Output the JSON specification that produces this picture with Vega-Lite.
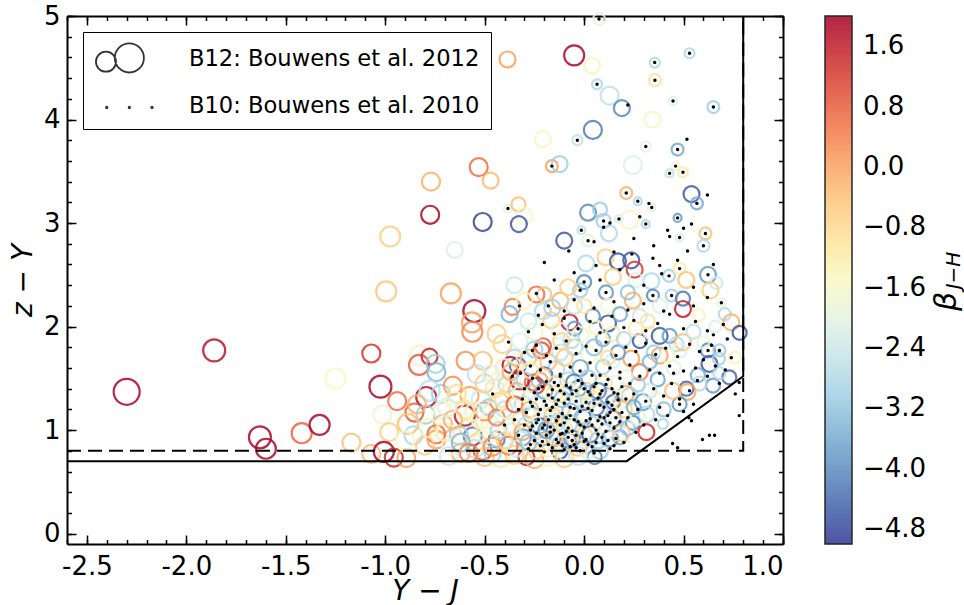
{
  "$schema": "https://vega.github.io/schema/vega-lite/v6.json",
  "width": 716,
  "height": 528,
  "autosize": {"type": "none"},
  "padding": {"left": 67, "top": 16, "right": 181, "bottom": 61},
  "background": "white",
  "config": {
    "view": {"stroke": null},
    "font": "DejaVu Sans",
    "axis": {"grid": false, "domainColor": "black", "domainWidth": 2, "tickColor": "black", "tickWidth": 1.5, "labelFont": "DejaVu Sans", "labelFontSize": 26, "labelColor": "black", "titleFont": "DejaVu Sans", "titleFontSize": 28, "titleFontStyle": "italic", "titleFontWeight": "normal", "titleColor": "black", "zindex": 1}
  },
  "datasets": {
    "b12": [
      {"x":-2.30,"y":1.37,"b":1.9,"H":26.12},{"x":-1.86,"y":1.77,"b":1.7,"H":27.12},{"x":-1.63,"y":0.93,"b":1.9,"H":27.12},{"x":-1.60,"y":0.82,"b":1.9,"H":27.55},
      {"x":-1.42,"y":0.97,"b":0.7,"H":27.55},{"x":-1.33,"y":1.05,"b":1.9,"H":27.55},{"x":-1.25,"y":1.50,"b":-1.5,"H":27.55},{"x":-1.17,"y":0.88,"b":-0.4,"H":27.94},
      {"x":-0.995,"y":2.34,"b":-0.5,"H":27.55},{"x":-0.67,"y":2.32,"b":0.0,"H":27.55},{"x":-0.552,"y":2.15,"b":1.9,"H":27.12},{"x":-0.564,"y":2.04,"b":0.0,"H":27.55},
      {"x":-0.562,"y":1.95,"b":0.3,"H":27.55},{"x":-1.07,"y":1.74,"b":1.3,"H":27.94},{"x":-1.024,"y":1.42,"b":1.9,"H":27.12},{"x":-0.827,"y":1.72,"b":-1.7,"H":27.55},
      {"x":-0.83,"y":1.63,"b":0.8,"H":27.55},{"x":-0.777,"y":1.71,"b":1.5,"H":28.3},{"x":-0.747,"y":1.64,"b":-3.0,"H":27.94},{"x":-0.743,"y":1.56,"b":-3.4,"H":27.94},
      {"x":-0.94,"y":1.28,"b":0.6,"H":27.94},{"x":-0.794,"y":1.32,"b":1.7,"H":27.55},{"x":-0.777,"y":1.38,"b":-2.6,"H":27.55},{"x":-1.015,"y":1.15,"b":-1.8,"H":27.94},
      {"x":-0.853,"y":1.17,"b":0.8,"H":27.94},{"x":-0.797,"y":1.15,"b":-3.0,"H":27.94},{"x":-0.886,"y":1.06,"b":-0.4,"H":27.55},{"x":-0.98,"y":0.98,"b":-0.6,"H":27.94},
      {"x":-0.858,"y":0.95,"b":-2.8,"H":27.94},{"x":-0.743,"y":0.91,"b":0.0,"H":27.94},{"x":-1.07,"y":0.77,"b":-0.3,"H":27.94},{"x":-1.007,"y":0.79,"b":1.9,"H":27.55},
      {"x":-0.957,"y":0.735,"b":1.4,"H":27.94},{"x":-0.894,"y":0.73,"b":0.0,"H":27.94},{"x":-0.72,"y":1.35,"b":-3.0,"H":27.94},{"x":-0.71,"y":1.19,"b":-1.8,"H":27.94},
      {"x":-0.71,"y":1.06,"b":-0.2,"H":27.94},{"x":-0.66,"y":1.43,"b":0.2,"H":27.94},{"x":-0.596,"y":1.67,"b":0.2,"H":27.94},{"x":-0.60,"y":1.14,"b":1.6,"H":27.55},
      {"x":-0.576,"y":1.33,"b":0.0,"H":27.94},{"x":-0.65,"y":1.28,"b":-1.6,"H":27.94},{"x":-0.51,"y":1.67,"b":-0.4,"H":27.94},{"x":-0.54,"y":1.54,"b":-2.6,"H":27.94},
      {"x":-0.56,"y":0.94,"b":-4.2,"H":27.94},{"x":-0.743,"y":0.96,"b":0.6,"H":27.94},{"x":-0.51,"y":0.80,"b":1.0,"H":27.94},{"x":-0.44,"y":1.93,"b":-0.6,"H":27.94},
      {"x":-0.53,"y":3.54,"b":0.6,"H":27.94},{"x":-0.47,"y":3.41,"b":-0.3,"H":28.3},{"x":-0.77,"y":3.40,"b":-0.2,"H":27.94},{"x":-0.774,"y":3.08,"b":1.9,"H":27.94},
      {"x":-0.51,"y":3.01,"b":-4.8,"H":27.94},{"x":-0.975,"y":2.87,"b":-0.6,"H":27.55},{"x":-0.65,"y":2.74,"b":-2.2,"H":28.3},
      {"x":-0.385,"y":4.58,"b":0.0,"H":28.3},{"x":-0.05,"y":4.62,"b":1.9,"H":27.55},{"x":0.04,"y":4.52,"b":-1.4,"H":28.3},{"x":0.355,"y":4.55,"b":-2.8,"H":29.1},
      {"x":0.53,"y":4.64,"b":-2.8,"H":29.1},{"x":0.356,"y":4.38,"b":-1.0,"H":28.88},{"x":0.065,"y":4.34,"b":-2.8,"H":29.1},{"x":0.128,"y":4.23,"b":-2.6,"H":27.94},
      {"x":0.19,"y":4.11,"b":-4.0,"H":28.3},{"x":0.447,"y":4.18,"b":-2.2,"H":29.3},{"x":0.65,"y":4.12,"b":-3.0,"H":28.88},{"x":0.343,"y":4.0,"b":-1.6,"H":28.3},
      {"x":0.044,"y":3.90,"b":-4.2,"H":27.94},{"x":-0.207,"y":3.81,"b":-1.6,"H":28.3},{"x":-0.034,"y":3.80,"b":-2.6,"H":29.1},{"x":0.31,"y":3.74,"b":-2.0,"H":29.1},
      {"x":0.47,"y":3.71,"b":-3.6,"H":28.88},{"x":0.245,"y":3.56,"b":-2.2,"H":27.94},{"x":-0.162,"y":3.55,"b":0.0,"H":28.88},{"x":-0.123,"y":3.57,"b":-3.0,"H":28.3},
      {"x":0.46,"y":3.55,"b":-1.8,"H":29.3},{"x":0.43,"y":3.48,"b":-2.6,"H":29.3},{"x":0.497,"y":3.49,"b":-1.2,"H":29.1},{"x":0.54,"y":3.28,"b":-4.6,"H":28.3},
      {"x":0.567,"y":3.19,"b":-3.6,"H":28.88},{"x":0.212,"y":3.29,"b":-0.2,"H":28.88},{"x":0.27,"y":3.21,"b":-2.8,"H":29.3},{"x":0.34,"y":3.15,"b":-2.0,"H":29.3},
      {"x":-0.383,"y":3.14,"b":-2.0,"H":29.3},{"x":-0.33,"y":3.18,"b":-0.4,"H":28.6},{"x":-0.30,"y":3.07,"b":-1.6,"H":28.3},{"x":-0.328,"y":2.99,"b":-4.6,"H":28.3},
      {"x":0.02,"y":3.10,"b":-4.0,"H":28.3},{"x":0.08,"y":3.13,"b":-3.0,"H":28.6},{"x":0.098,"y":3.02,"b":-3.0,"H":28.6},{"x":0.229,"y":3.03,"b":-1.6,"H":27.94},
      {"x":0.47,"y":3.05,"b":-3.8,"H":29.3},{"x":0.61,"y":2.90,"b":-0.4,"H":28.88},{"x":0.60,"y":2.78,"b":-2.8,"H":28.88},{"x":-0.10,"y":2.83,"b":-4.6,"H":28.3},
      {"x":-0.014,"y":2.93,"b":-2.6,"H":29.3},{"x":0.02,"y":2.83,"b":-2.0,"H":28.88},{"x":0.125,"y":2.90,"b":-2.8,"H":28.3},{"x":0.075,"y":4.97,"b":-2.0,"H":28.88},
      {"x":0.48,"y":2.86,"b":-2.2,"H":29.3},{"x":0.175,"y":3.04,"b":-2.2,"H":29.3},{"x":0.31,"y":2.99,"b":-2.8,"H":29.3},
      {"x":0.01,"y":2.61,"b":-2.8,"H":28.3},{"x":0.108,"y":2.67,"b":-0.6,"H":28.3},{"x":0.17,"y":2.63,"b":-4.6,"H":28.3},{"x":0.237,"y":2.64,"b":-4.6,"H":28.3},
      {"x":0.254,"y":2.55,"b":1.2,"H":28.3},{"x":0.427,"y":2.49,"b":-3.0,"H":28.88},{"x":0.48,"y":2.56,"b":-1.2,"H":28.88},{"x":0.623,"y":2.50,"b":-3.8,"H":28.3},
      {"x":0.665,"y":2.42,"b":-2.4,"H":28.88},{"x":0.514,"y":2.45,"b":-0.4,"H":28.3},{"x":0.635,"y":2.35,"b":-0.6,"H":28.3},{"x":0.338,"y":2.44,"b":-2.8,"H":28.3},
      {"x":0.26,"y":2.45,"b":-2.2,"H":28.6},{"x":0.145,"y":2.48,"b":-0.6,"H":28.3},{"x":0.0,"y":2.43,"b":-4.0,"H":28.6},{"x":-0.02,"y":2.35,"b":-3.0,"H":28.6},
      {"x":0.11,"y":2.33,"b":-3.8,"H":28.6},{"x":0.245,"y":2.25,"b":-0.2,"H":28.3},{"x":0.346,"y":2.30,"b":-4.0,"H":28.88},{"x":0.44,"y":2.30,"b":-3.0,"H":28.88},
      {"x":0.497,"y":2.27,"b":-4.2,"H":28.6},{"x":0.497,"y":2.17,"b":1.6,"H":28.3},{"x":0.69,"y":2.23,"b":-1.8,"H":29.3},{"x":0.707,"y":2.12,"b":-2.8,"H":28.88},
      {"x":0.74,"y":2.04,"b":-0.2,"H":28.3},{"x":0.782,"y":1.94,"b":-4.6,"H":28.6},{"x":0.576,"y":2.11,"b":-1.4,"H":28.88},{"x":-0.24,"y":2.31,"b":0.6,"H":28.3},
      {"x":-0.2,"y":2.31,"b":-0.4,"H":28.6},{"x":-0.207,"y":2.15,"b":-2.8,"H":28.3},{"x":-0.165,"y":2.06,"b":-0.6,"H":28.3},{"x":-0.36,"y":2.19,"b":0.4,"H":28.3},
      {"x":-0.375,"y":2.12,"b":-3.4,"H":28.3},{"x":-0.41,"y":1.83,"b":-0.6,"H":27.94},{"x":-0.325,"y":1.86,"b":-2.2,"H":28.3},{"x":-0.35,"y":1.70,"b":-2.8,"H":28.3},
      {"x":-0.333,"y":1.62,"b":-4.4,"H":28.3},{"x":-0.37,"y":1.63,"b":1.8,"H":28.3},{"x":-0.207,"y":1.81,"b":0.8,"H":28.3},{"x":-0.215,"y":1.77,"b":1.0,"H":28.3},
      {"x":-0.073,"y":2.04,"b":1.6,"H":28.3},{"x":-0.048,"y":1.98,"b":-3.8,"H":28.6},{"x":-0.064,"y":1.87,"b":-2.8,"H":28.3},{"x":-0.048,"y":1.80,"b":-3.0,"H":28.3},
      {"x":-0.115,"y":1.86,"b":-0.6,"H":28.3},{"x":0.044,"y":2.10,"b":-4.0,"H":28.6},{"x":0.12,"y":2.03,"b":-4.6,"H":28.3},{"x":0.095,"y":1.88,"b":-3.6,"H":28.6},
      {"x":0.145,"y":1.93,"b":-1.2,"H":28.6},{"x":0.237,"y":1.69,"b":0.0,"H":28.3},{"x":0.28,"y":1.86,"b":-4.6,"H":28.6},{"x":0.33,"y":1.94,"b":-1.8,"H":28.88},
      {"x":0.38,"y":1.91,"b":-4.6,"H":28.3},{"x":0.43,"y":1.91,"b":-3.8,"H":28.6},{"x":0.464,"y":1.83,"b":-2.8,"H":28.6},{"x":0.497,"y":1.85,"b":-0.4,"H":28.3},
      {"x":0.38,"y":1.72,"b":0.0,"H":28.3},{"x":0.48,"y":1.77,"b":-2.2,"H":28.6},{"x":0.623,"y":1.77,"b":-4.0,"H":28.6},{"x":0.68,"y":1.77,"b":-3.0,"H":28.88},
      {"x":0.63,"y":1.64,"b":-4.6,"H":28.3},{"x":0.678,"y":1.69,"b":-3.0,"H":28.88},{"x":0.757,"y":1.70,"b":-1.4,"H":28.88},{"x":0.73,"y":1.51,"b":-4.4,"H":28.6},
      {"x":0.648,"y":1.43,"b":-3.8,"H":28.6},{"x":0.572,"y":1.53,"b":-3.6,"H":28.6},{"x":0.58,"y":1.45,"b":-2.8,"H":28.6},{"x":0.514,"y":1.40,"b":-4.4,"H":28.6},
      {"x":0.52,"y":1.37,"b":0.0,"H":28.3},{"x":0.48,"y":1.25,"b":-3.8,"H":28.6},{"x":0.447,"y":1.38,"b":-0.4,"H":28.3},{"x":0.37,"y":1.49,"b":-3.6,"H":28.6},
      {"x":0.28,"y":1.56,"b":0.4,"H":28.3},{"x":0.23,"y":1.33,"b":-2.8,"H":28.3},{"x":0.21,"y":1.35,"b":0.0,"H":28.3},{"x":0.296,"y":1.27,"b":-3.8,"H":28.3},
      {"x":0.313,"y":1.15,"b":-2.8,"H":28.3},{"x":0.245,"y":1.07,"b":-4.0,"H":28.6},{"x":0.313,"y":0.98,"b":1.4,"H":28.3},{"x":0.396,"y":1.06,"b":-2.8,"H":29.1},
      {"x":0.145,"y":1.11,"b":-4.6,"H":28.3},{"x":0.18,"y":0.93,"b":-3.6,"H":28.6},{"x":0.11,"y":0.98,"b":-2.6,"H":28.3},{"x":0.08,"y":0.80,"b":-3.0,"H":28.3},
      {"x":0.053,"y":0.74,"b":-4.0,"H":28.6},{"x":-0.02,"y":0.86,"b":-2.8,"H":28.3},{"x":-0.08,"y":0.90,"b":-4.2,"H":28.3},{"x":-0.123,"y":0.80,"b":-4.6,"H":28.3},
      {"x":-0.174,"y":1.06,"b":-4.0,"H":28.3},{"x":-0.224,"y":1.04,"b":-4.4,"H":28.3},{"x":-0.24,"y":0.99,"b":-2.8,"H":28.3},{"x":-0.308,"y":0.93,"b":-3.8,"H":28.3},
      {"x":-0.44,"y":0.91,"b":-4.2,"H":28.3},{"x":-0.36,"y":0.99,"b":-2.2,"H":28.3},{"x":-0.46,"y":0.77,"b":-3.0,"H":28.3},{"x":-0.29,"y":0.74,"b":1.4,"H":28.3},
      {"x":0.06,"y":1.22,"b":-4.2,"H":28.3},{"x":0.01,"y":1.38,"b":-0.6,"H":28.3},{"x":-0.03,"y":1.40,"b":-3.8,"H":28.3},{"x":-0.08,"y":1.48,"b":-2.8,"H":28.3},
      {"x":-0.14,"y":1.59,"b":-2.8,"H":28.3},{"x":-0.2,"y":1.53,"b":-4.4,"H":28.3},{"x":-0.224,"y":1.48,"b":0.0,"H":28.3},{"x":-0.258,"y":1.46,"b":0.8,"H":28.3},
      {"x":-0.24,"y":1.43,"b":1.2,"H":28.3},{"x":-0.39,"y":1.44,"b":-2.8,"H":28.3},{"x":-0.325,"y":1.48,"b":1.6,"H":27.94},{"x":-0.34,"y":1.38,"b":-0.2,"H":28.3},
      {"x":-0.425,"y":1.27,"b":-0.6,"H":27.94},{"x":-0.308,"y":1.25,"b":-2.8,"H":28.3},{"x":-0.266,"y":1.15,"b":-3.4,"H":28.3},{"x":-0.19,"y":1.15,"b":-2.0,"H":28.3},
      {"x":-0.115,"y":1.20,"b":-0.6,"H":28.3},{"x":-0.056,"y":1.28,"b":-2.8,"H":28.3},{"x":-0.006,"y":1.12,"b":-4.4,"H":28.3},{"x":-0.073,"y":1.07,"b":-3.0,"H":28.3},
      {"x":0.145,"y":1.27,"b":-4.4,"H":28.6},{"x":0.095,"y":1.61,"b":-3.0,"H":28.6},{"x":0.145,"y":1.67,"b":-2.2,"H":28.6},{"x":0.17,"y":1.75,"b":-3.8,"H":28.6},
      {"x":0.21,"y":1.51,"b":-2.0,"H":28.6},{"x":0.028,"y":1.73,"b":-1.6,"H":28.3},{"x":0.06,"y":1.99,"b":-1.4,"H":28.6},{"x":-0.123,"y":1.96,"b":-2.0,"H":28.3},
      {"x":-0.098,"y":1.70,"b":-0.6,"H":28.3},
      {"x":-0.5,"y":0.74,"b":-0.4,"H":27.94},{"x":-0.42,"y":0.73,"b":-1.2,"H":27.94},{"x":-0.35,"y":0.76,"b":-0.6,"H":27.94},{"x":-0.25,"y":0.72,"b":-0.2,"H":27.94},
      {"x":-0.18,"y":0.74,"b":-1.6,"H":27.94},{"x":-0.10,"y":0.73,"b":-0.5,"H":27.94},{"x":-0.03,"y":0.75,"b":-2.6,"H":27.94},{"x":-0.55,"y":0.82,"b":-2.6,"H":27.94},
      {"x":-0.38,"y":0.85,"b":0.4,"H":27.94},{"x":-0.2,"y":0.88,"b":-0.8,"H":27.94},{"x":-0.62,"y":0.78,"b":-0.2,"H":27.94},{"x":-0.67,"y":0.85,"b":-1.8,"H":27.94},
      {"x":-0.58,"y":1.02,"b":-0.8,"H":27.94},{"x":-0.47,"y":1.05,"b":-1.4,"H":27.94},{"x":-0.50,"y":1.18,"b":0.2,"H":27.94},{"x":-0.45,"y":1.40,"b":-1.0,"H":27.94},
      {"x":-0.52,"y":1.30,"b":-2.4,"H":27.94},{"x":-0.40,"y":1.60,"b":-1.2,"H":27.94},{"x":-0.28,"y":1.70,"b":-0.4,"H":28.3},{"x":-0.25,"y":1.95,"b":-1.8,"H":28.3},
      {"x":-0.30,"y":2.25,"b":-1.4,"H":28.3},{"x":-0.12,"y":2.25,"b":-0.2,"H":28.3},{"x":-0.05,"y":2.20,"b":-2.6,"H":28.3},{"x":0.32,"y":2.05,"b":-1.0,"H":28.6},
      {"x":0.55,"y":1.95,"b":-2.6,"H":28.6},{"x":0.60,"y":1.85,"b":-1.8,"H":28.88},{"x":0.45,"y":1.60,"b":-2.0,"H":28.6},{"x":0.36,"y":1.30,"b":-1.6,"H":28.6},
      {"x":0.40,"y":1.20,"b":-3.2,"H":28.6},{"x":0.05,"y":1.05,"b":-1.8,"H":28.3},{"x":0.0,"y":0.95,"b":-0.8,"H":28.3},{"x":-0.13,"y":0.96,"b":-2.0,"H":28.3},
      {"x":-0.32,"y":1.10,"b":-0.8,"H":28.3},{"x":-0.40,"y":1.20,"b":-2.6,"H":28.3},{"x":-0.60,"y":1.20,"b":-1.0,"H":27.94},{"x":-0.63,"y":0.95,"b":-3.0,"H":27.94},
      {"x":-0.80,"y":0.85,"b":-0.6,"H":27.94},{"x":-0.68,"y":0.75,"b":-2.4,"H":27.94},{"x":0.10,"y":1.45,"b":-1.0,"H":28.3},{"x":0.20,"y":1.20,"b":-0.6,"H":28.3},
      {"x":0.35,"y":1.75,"b":-3.0,"H":28.6},{"x":0.28,"y":2.10,"b":-2.4,"H":28.6},{"x":0.12,"y":2.20,"b":-1.6,"H":28.6},{"x":-0.02,"y":1.60,"b":-3.6,"H":28.3},
      {"x":0.00,"y":1.25,"b":-2.0,"H":28.3},{"x":-0.15,"y":1.35,"b":-1.0,"H":28.3},{"x":-0.28,"y":1.30,"b":-2.0,"H":28.3},{"x":-0.35,"y":2.40,"b":-2.4,"H":28.3},
      {"x":0.66,"y":2.0,"b":-2.2,"H":28.88},{"x":0.68,"y":1.55,"b":-2.8,"H":28.88},
      {"x":-0.54,"y":0.88,"b":-0.8,"H":27.94},{"x":-0.49,"y":0.95,"b":-1.8,"H":28.3},{"x":-0.46,"y":0.84,"b":0.2,"H":27.94},{"x":-0.43,"y":1.00,"b":-2.8,"H":28.3},
      {"x":-0.40,"y":0.90,"b":-0.6,"H":28.3},{"x":-0.37,"y":1.05,"b":-1.2,"H":28.3},{"x":-0.34,"y":0.82,"b":-2.4,"H":28.3},{"x":-0.31,"y":0.98,"b":0.0,"H":28.3},
      {"x":-0.28,"y":0.88,"b":-3.2,"H":28.3},{"x":-0.52,"y":1.10,"b":-1.4,"H":27.94},{"x":-0.48,"y":1.22,"b":-3.0,"H":28.3},{"x":-0.44,"y":1.12,"b":0.4,"H":28.3},
      {"x":-0.41,"y":1.30,"b":-0.8,"H":28.3},{"x":-0.38,"y":1.18,"b":-2.0,"H":28.3},{"x":-0.35,"y":1.25,"b":0.8,"H":28.3},{"x":-0.32,"y":1.35,"b":-1.6,"H":28.3},
      {"x":-0.29,"y":1.05,"b":-2.6,"H":28.3},{"x":-0.27,"y":1.20,"b":-0.4,"H":28.3},{"x":-0.50,"y":1.45,"b":-0.6,"H":27.94},{"x":-0.47,"y":1.55,"b":-2.2,"H":28.3},
      {"x":-0.43,"y":1.48,"b":-1.8,"H":28.3},{"x":-0.37,"y":1.56,"b":-0.2,"H":28.3},{"x":-0.30,"y":1.48,"b":-3.0,"H":28.3},{"x":-0.27,"y":1.58,"b":-1.2,"H":28.3},
      {"x":-0.24,"y":0.80,"b":-0.6,"H":28.3},{"x":-0.21,"y":0.93,"b":-3.4,"H":28.3},{"x":-0.18,"y":0.82,"b":-1.2,"H":28.3},{"x":-0.15,"y":0.92,"b":-0.2,"H":28.3},
      {"x":-0.12,"y":0.86,"b":-3.0,"H":28.3},{"x":-0.09,"y":0.78,"b":-1.8,"H":28.3},{"x":-0.06,"y":0.92,"b":-4.0,"H":28.3},{"x":-0.03,"y":0.83,"b":-0.6,"H":28.3},
      {"x":0.02,"y":0.80,"b":-2.2,"H":28.3},{"x":-0.22,"y":1.12,"b":-1.6,"H":28.3},{"x":-0.19,"y":1.00,"b":-3.8,"H":28.3},{"x":-0.16,"y":1.14,"b":-0.4,"H":28.3},
      {"x":-0.13,"y":1.08,"b":-2.6,"H":28.3},{"x":-0.10,"y":1.01,"b":-1.0,"H":28.3},{"x":-0.07,"y":1.18,"b":-3.4,"H":28.3},{"x":-0.04,"y":1.04,"b":-1.4,"H":28.3},
      {"x":0.00,"y":1.14,"b":-3.0,"H":28.3},{"x":0.03,"y":0.96,"b":-4.4,"H":28.3},{"x":-0.23,"y":1.26,"b":-2.4,"H":28.3},{"x":-0.20,"y":1.38,"b":-3.6,"H":28.3},
      {"x":-0.17,"y":1.24,"b":-1.8,"H":28.3},{"x":-0.14,"y":1.45,"b":-0.8,"H":28.3},{"x":-0.11,"y":1.30,"b":-3.2,"H":28.3},{"x":-0.08,"y":1.38,"b":-1.4,"H":28.3},
      {"x":-0.05,"y":1.46,"b":-4.2,"H":28.3},{"x":-0.02,"y":1.32,"b":-2.2,"H":28.3},{"x":0.02,"y":1.50,"b":-3.0,"H":28.3},{"x":0.04,"y":1.30,"b":-1.2,"H":28.3},
      {"x":0.07,"y":0.90,"b":-3.0,"H":28.3},{"x":0.10,"y":1.04,"b":-1.6,"H":28.3},{"x":0.13,"y":0.92,"b":-3.8,"H":28.3},{"x":0.16,"y":1.05,"b":-2.4,"H":28.3},
      {"x":0.19,"y":0.97,"b":-0.6,"H":28.3},{"x":0.22,"y":1.02,"b":-3.2,"H":28.6},{"x":0.27,"y":1.12,"b":-1.8,"H":28.6},{"x":0.08,"y":1.18,"b":-2.8,"H":28.3},
      {"x":0.12,"y":1.33,"b":-3.4,"H":28.3},{"x":0.18,"y":1.28,"b":-1.4,"H":28.3},{"x":0.25,"y":1.22,"b":-3.6,"H":28.6},{"x":0.33,"y":1.38,"b":-2.4,"H":28.6},
      {"x":0.07,"y":1.38,"b":-4.0,"H":28.3},{"x":0.16,"y":1.45,"b":-2.0,"H":28.3},{"x":0.27,"y":1.44,"b":-3.0,"H":28.6},
      {"x":-0.30,"y":1.68,"b":-1.8,"H":28.3},{"x":-0.25,"y":1.78,"b":-3.0,"H":28.3},{"x":-0.18,"y":1.66,"b":-0.4,"H":28.3},{"x":-0.12,"y":1.75,"b":-2.6,"H":28.3},
      {"x":-0.02,"y":1.92,"b":-1.6,"H":28.3},{"x":0.05,"y":1.80,"b":-3.2,"H":28.3},{"x":0.12,"y":1.70,"b":-0.8,"H":28.6},{"x":0.20,"y":1.88,"b":-2.8,"H":28.6},
      {"x":0.26,"y":1.98,"b":-1.2,"H":28.6},{"x":0.33,"y":1.66,"b":-3.4,"H":28.6},{"x":0.42,"y":1.72,"b":-1.6,"H":28.6},{"x":-0.28,"y":2.05,"b":-2.4,"H":28.3},
      {"x":-0.16,"y":2.18,"b":-3.0,"H":28.3},{"x":0.00,"y":2.20,"b":-1.0,"H":28.6},{"x":0.18,"y":2.12,"b":-3.6,"H":28.6},{"x":0.38,"y":2.20,"b":-2.0,"H":28.6},
      {"x":-0.08,"y":2.38,"b":-0.6,"H":28.3},{"x":0.22,"y":2.33,"b":-3.2,"H":28.6},
      {"x":-0.70,"y":0.98,"b":-1.2,"H":27.94},{"x":-0.66,"y":1.10,"b":-0.2,"H":27.94},{"x":-0.62,"y":0.88,"b":-3.4,"H":27.94},{"x":-0.58,"y":0.78,"b":0.4,"H":27.94},
      {"x":-0.55,"y":1.18,"b":-1.8,"H":27.94},{"x":-0.64,"y":1.35,"b":-0.8,"H":27.94},{"x":-0.69,"y":1.22,"b":-2.2,"H":27.94},{"x":-0.78,"y":1.02,"b":-1.4,"H":27.94},
      {"x":-0.84,"y":1.25,"b":-0.2,"H":27.94},{"x":-0.90,"y":0.90,"b":-1.6,"H":27.94}
    ],
    "b10": [
      {"x":0.355,"y":4.55},{"x":0.53,"y":4.64},{"x":0.356,"y":4.38},{"x":0.065,"y":4.34},{"x":0.22,"y":4.14},{"x":0.447,"y":4.18},{"x":0.65,"y":4.12},
      {"x":-0.034,"y":3.80},{"x":0.31,"y":3.74},{"x":0.47,"y":3.71},{"x":0.517,"y":3.81},{"x":-0.162,"y":3.55},{"x":0.46,"y":3.55},{"x":0.43,"y":3.48},
      {"x":0.497,"y":3.49},{"x":0.62,"y":3.27},{"x":0.567,"y":3.19},{"x":0.212,"y":3.29},{"x":0.27,"y":3.21},{"x":0.326,"y":3.19},{"x":0.34,"y":3.15},
      {"x":-0.383,"y":3.14},{"x":0.098,"y":3.02},{"x":0.098,"y":2.96},{"x":0.13,"y":3.0},{"x":0.175,"y":3.04},{"x":0.28,"y":3.06},{"x":0.31,"y":2.99},
      {"x":0.42,"y":2.93},{"x":0.43,"y":2.87},{"x":0.48,"y":2.86},{"x":0.47,"y":3.05},{"x":0.54,"y":2.99},{"x":0.61,"y":2.90},{"x":0.60,"y":2.78},
      {"x":0.52,"y":2.73},{"x":-0.077,"y":2.73},{"x":-0.014,"y":2.93},{"x":0.02,"y":2.83},{"x":0.05,"y":2.82},{"x":0.075,"y":4.97},
      {"x":0.06,"y":2.59},{"x":0.346,"y":2.66},{"x":0.38,"y":2.59},{"x":0.39,"y":2.51},{"x":0.427,"y":2.49},{"x":0.48,"y":2.56},{"x":0.47,"y":2.64},
      {"x":0.623,"y":2.50},{"x":0.24,"y":2.70},{"x":0.0,"y":2.43},{"x":-0.02,"y":2.35},{"x":0.11,"y":2.33},{"x":0.346,"y":2.30},{"x":0.44,"y":2.30},
      {"x":0.69,"y":2.23},{"x":-0.24,"y":2.32},{"x":-0.23,"y":2.11},{"x":-0.325,"y":2.20},{"x":-0.26,"y":1.77},{"x":0.623,"y":1.77},{"x":0.68,"y":1.77},{"x":0.48,"y":1.25},
      {"x":0.47,"y":0.83},{"x":0.445,"y":0.87},{"x":0.63,"y":0.95},{"x":0.656,"y":0.95},{"x":0.595,"y":0.91},{"x":0.78,"y":1.14},{"x":0.76,"y":1.35},
      {"x":0.78,"y":1.46},{"x":0.527,"y":1.12},{"x":0.54,"y":1.09},
      {"x":-0.28,"y":0.82},{"x":-0.25,"y":0.90},{"x":-0.22,"y":0.85},{"x":-0.19,"y":0.95},{"x":-0.16,"y":0.83},{"x":-0.13,"y":0.88},{"x":-0.10,"y":0.81},
      {"x":-0.08,"y":0.93},{"x":-0.05,"y":0.86},{"x":-0.02,"y":0.80},{"x":0.01,"y":0.91},{"x":0.04,"y":0.84},{"x":0.07,"y":0.96},{"x":0.10,"y":0.87},
      {"x":0.13,"y":0.82},{"x":0.16,"y":0.92},
      {"x":-0.27,"y":1.00},{"x":-0.24,"y":1.07},{"x":-0.21,"y":1.02},{"x":-0.18,"y":1.10},{"x":-0.15,"y":1.00},{"x":-0.12,"y":1.05},{"x":-0.09,"y":1.12},
      {"x":-0.06,"y":0.99},{"x":-0.03,"y":1.08},{"x":0.00,"y":1.03},{"x":0.03,"y":1.11},{"x":0.06,"y":1.00},{"x":0.09,"y":1.06},{"x":0.12,"y":1.14},
      {"x":0.15,"y":1.02},{"x":0.18,"y":1.08},
      {"x":-0.29,"y":1.17},{"x":-0.26,"y":1.23},{"x":-0.23,"y":1.15},{"x":-0.20,"y":1.28},{"x":-0.17,"y":1.19},{"x":-0.14,"y":1.25},{"x":-0.11,"y":1.16},
      {"x":-0.08,"y":1.30},{"x":-0.05,"y":1.21},{"x":-0.02,"y":1.18},{"x":0.01,"y":1.27},{"x":0.04,"y":1.19},{"x":0.07,"y":1.31},{"x":0.10,"y":1.22},
      {"x":0.13,"y":1.17},{"x":0.17,"y":1.29},
      {"x":-0.25,"y":1.36},{"x":-0.21,"y":1.42},{"x":-0.18,"y":1.34},{"x":-0.15,"y":1.46},{"x":-0.12,"y":1.38},{"x":-0.09,"y":1.43},{"x":-0.06,"y":1.35},
      {"x":-0.03,"y":1.48},{"x":0.00,"y":1.40},{"x":0.03,"y":1.34},{"x":0.06,"y":1.45},{"x":0.09,"y":1.38},{"x":0.12,"y":1.49},{"x":0.15,"y":1.36},{"x":0.19,"y":1.42},
      {"x":-0.33,"y":0.95},{"x":-0.31,"y":1.30},{"x":-0.35,"y":1.10},{"x":-0.20,"y":0.79},{"x":0.05,"y":0.78},{"x":-0.11,"y":0.97},{"x":0.0,"y":0.89},
      {"x":-0.07,"y":1.14},{"x":0.08,"y":1.13},{"x":-0.16,"y":1.31},{"x":0.11,"y":0.99},{"x":-0.04,"y":0.95},{"x":0.14,"y":1.24},{"x":-0.24,"y":1.30},
      {"x":-0.32,"y":1.55},{"x":-0.27,"y":1.62},{"x":-0.22,"y":1.58},{"x":-0.17,"y":1.66},{"x":-0.12,"y":1.54},{"x":-0.07,"y":1.61},{"x":-0.02,"y":1.57},
      {"x":0.03,"y":1.65},{"x":0.08,"y":1.53},{"x":0.13,"y":1.60},{"x":0.18,"y":1.56},{"x":0.23,"y":1.63},{"x":0.28,"y":1.52},{"x":0.33,"y":1.58},
      {"x":0.38,"y":1.55},{"x":0.43,"y":1.62},{"x":0.50,"y":1.57},{"x":0.56,"y":1.60},
      {"x":-0.30,"y":1.75},{"x":-0.24,"y":1.82},{"x":-0.19,"y":1.72},{"x":-0.14,"y":1.79},{"x":-0.09,"y":1.86},{"x":-0.04,"y":1.74},{"x":0.01,"y":1.81},
      {"x":0.06,"y":1.77},{"x":0.11,"y":1.85},{"x":0.16,"y":1.72},{"x":0.21,"y":1.80},{"x":0.26,"y":1.76},{"x":0.31,"y":1.84},{"x":0.36,"y":1.73},
      {"x":0.41,"y":1.79},{"x":0.47,"y":1.71},{"x":0.53,"y":1.83},{"x":0.58,"y":1.76},{"x":0.64,"y":1.82},
      {"x":-0.28,"y":1.95},{"x":-0.21,"y":2.02},{"x":-0.15,"y":1.93},{"x":-0.10,"y":2.08},{"x":-0.03,"y":1.98},{"x":0.03,"y":2.05},{"x":0.08,"y":1.94},
      {"x":0.14,"y":2.10},{"x":0.20,"y":1.99},{"x":0.25,"y":2.06},{"x":0.31,"y":1.96},{"x":0.37,"y":2.03},{"x":0.43,"y":2.12},{"x":0.50,"y":1.98},
      {"x":0.56,"y":2.05},{"x":0.62,"y":1.96},{"x":0.70,"y":2.02},
      {"x":-0.18,"y":2.20},{"x":-0.10,"y":2.15},{"x":-0.05,"y":2.26},{"x":0.05,"y":2.18},{"x":0.15,"y":2.24},{"x":0.22,"y":2.16},{"x":0.30,"y":2.22},
      {"x":0.40,"y":2.15},{"x":0.55,"y":2.20},{"x":0.62,"y":2.28},
      {"x":-0.15,"y":2.45},{"x":-0.05,"y":2.52},{"x":0.08,"y":2.45},{"x":0.18,"y":2.55},{"x":0.30,"y":2.40},{"x":0.55,"y":2.38},{"x":0.65,"y":2.60},
      {"x":0.25,"y":2.85},{"x":0.35,"y":2.78},{"x":0.15,"y":2.72},{"x":-0.20,"y":2.62},{"x":0.50,"y":2.95},
      {"x":0.22,"y":1.12},{"x":0.27,"y":1.20},{"x":0.31,"y":1.28},{"x":0.25,"y":1.35},{"x":0.35,"y":1.40},{"x":0.40,"y":1.33},{"x":0.44,"y":1.45},
      {"x":0.38,"y":1.22},{"x":0.42,"y":1.14},{"x":0.48,"y":1.30},{"x":0.53,"y":1.38},{"x":0.57,"y":1.48},{"x":0.62,"y":1.52},{"x":0.66,"y":1.62},
      {"x":0.71,"y":1.58},{"x":0.74,"y":1.70},{"x":0.60,"y":1.68},{"x":0.55,"y":1.25},{"x":0.50,"y":1.18},{"x":0.30,"y":1.05},{"x":0.26,"y":0.98},
      {"x":0.20,"y":0.88},{"x":0.36,"y":1.10},{"x":0.45,"y":1.55},{"x":0.68,"y":1.45},{"x":0.72,"y":1.88},{"x":0.65,"y":1.92},
      {"x":-0.40,"y":1.05},{"x":-0.36,"y":1.52},{"x":-0.38,"y":1.85},{"x":-0.46,"y":1.35},
      {"x":-0.27,"y":0.86},{"x":-0.24,"y":0.97},{"x":-0.21,"y":0.89},{"x":-0.18,"y":0.86},{"x":-0.17,"y":0.98},{"x":-0.14,"y":0.91},{"x":-0.12,"y":0.96},
      {"x":-0.11,"y":0.85},{"x":-0.09,"y":0.99},{"x":-0.07,"y":0.84},{"x":-0.06,"y":0.90},{"x":-0.04,"y":0.83},{"x":-0.01,"y":0.97},{"x":0.02,"y":0.86},
      {"x":0.06,"y":0.88},{"x":0.09,"y":0.93},{"x":0.12,"y":0.90},{"x":0.15,"y":0.85},
      {"x":-0.26,"y":1.04},{"x":-0.23,"y":1.10},{"x":-0.20,"y":1.05},{"x":-0.17,"y":1.03},{"x":-0.14,"y":1.09},{"x":-0.13,"y":1.13},{"x":-0.10,"y":1.07},
      {"x":-0.08,"y":1.02},{"x":-0.05,"y":1.10},{"x":-0.02,"y":1.05},{"x":0.01,"y":1.09},{"x":0.04,"y":1.05},{"x":0.07,"y":1.09},{"x":0.10,"y":1.12},
      {"x":0.13,"y":1.07},{"x":0.16,"y":1.12},
      {"x":-0.27,"y":1.27},{"x":-0.22,"y":1.20},{"x":-0.19,"y":1.24},{"x":-0.16,"y":1.22},{"x":-0.13,"y":1.29},{"x":-0.10,"y":1.26},{"x":-0.07,"y":1.22},
      {"x":-0.04,"y":1.28},{"x":-0.01,"y":1.23},{"x":0.02,"y":1.21},{"x":0.05,"y":1.26},{"x":0.08,"y":1.24},{"x":0.12,"y":1.27},{"x":0.15,"y":1.20},
      {"x":-0.23,"y":1.40},{"x":-0.19,"y":1.47},{"x":-0.16,"y":1.39},{"x":-0.13,"y":1.43},{"x":-0.10,"y":1.35},{"x":-0.07,"y":1.41},{"x":-0.04,"y":1.38},
      {"x":-0.01,"y":1.45},{"x":0.02,"y":1.37},{"x":0.05,"y":1.42},{"x":0.08,"y":1.35},{"x":0.11,"y":1.44},{"x":0.14,"y":1.40},{"x":0.17,"y":1.35},
      {"x":-0.30,"y":1.40},{"x":-0.33,"y":1.20},{"x":-0.30,"y":1.05},{"x":0.19,"y":1.17},{"x":0.21,"y":1.30},{"x":0.23,"y":1.45},{"x":-0.12,"y":1.52},
      {"x":0.04,"y":1.53},{"x":0.18,"y":1.50},{"x":-0.26,"y":1.50}
    ],
    "solid": [{"i":0,"x":-2.6,"y":0.7},{"i":1,"x":0.2143,"y":0.7},{"i":2,"x":0.8,"y":1.52},{"i":3,"x":0.8,"y":5.0}],
    "dashed": [{"i":0,"x":-2.6,"y":0.8},{"i":1,"x":0.8,"y":0.8},{"i":2,"x":0.8,"y":5.0}],
    "key": [{"s":"B12: Bouwens et al. 2012"},{"s":"B10: Bouwens et al. 2010"}]
  },
  "resolve": {"axis": {"x": "independent", "y": "independent"}},
  "layer": [
    {
      "data": {"name": "b12"},
      "mark": {"type": "point", "shape": "circle", "filled": false, "strokeWidth": 2.2, "opacity": 0.85},
      "encoding": {
        "x": {"field": "x", "type": "quantitative", "scale": {"domain": [-2.6, 1.0], "nice": false, "zero": false},
              "axis": {"orient": "bottom", "values": [-2.5, -2, -1.5, -1, -0.5, 0, 0.5, 1], "tickSize": -9, "labelPadding": 18, "format": ".1f", "labelExpr": "replace(datum.label, '−', '-')", "title": "Y − J", "titlePadding": -2}},
        "y": {"field": "y", "type": "quantitative", "scale": {"domain": [-0.1, 5], "nice": false, "zero": false},
              "axis": {"orient": "left", "values": [0, 1, 2, 3, 4, 5], "tickSize": -9, "labelPadding": 16, "format": "d", "title": "z − Y", "titlePadding": 6}},
        "color": {"field": "b", "type": "quantitative", "scale": {"domain": [-5, 2], "scheme": "redyellowblue", "reverse": true},
                  "legend": {"title": null, "orient": "none", "legendX": 758, "legendY": 0, "direction": "vertical", "gradientLength": 528, "gradientThickness": 27, "gradientStrokeColor": "black", "gradientStrokeWidth": 1.5, "values": [1.6, 0.8, 0, -0.8, -1.6, -2.4, -3.2, -4, -4.8], "format": ".1f", "labelFont": "DejaVu Sans", "labelFontSize": 26, "labelColor": "black", "labelOffset": 11, "padding": 0}},
        "size": {"field": "H", "type": "quantitative", "scale": {"domain": [26, 29], "range": [700, 120]}, "legend": null}
      }
    },
    {
      "data": {"name": "b10"},
      "mark": {"type": "point", "shape": "circle", "filled": true, "color": "black", "size": 12, "opacity": 1},
      "encoding": {
        "x": {"field": "x", "type": "quantitative", "scale": {"domain": [-2.6, 1.0], "nice": false, "zero": false},
              "axis": {"orient": "bottom", "values": [-2.6,-2.5,-2.4,-2.3,-2.2,-2.1,-2,-1.9,-1.8,-1.7,-1.6,-1.5,-1.4,-1.3,-1.2,-1.1,-1,-0.9,-0.8,-0.7,-0.6,-0.5,-0.4,-0.3,-0.2,-0.1,0,0.1,0.2,0.3,0.4,0.5,0.6,0.7,0.8,0.9,1], "labels": false, "tickSize": -4.5, "domain": false, "title": null}},
        "y": {"field": "y", "type": "quantitative", "scale": {"domain": [-0.1, 5], "nice": false, "zero": false},
              "axis": {"orient": "left", "values": [0,0.2,0.4,0.6,0.8,1,1.2,1.4,1.6,1.8,2,2.2,2.4,2.6,2.8,3,3.2,3.4,3.6,3.8,4,4.2,4.4,4.6,4.8,5], "labels": false, "tickSize": -4.5, "domain": false, "title": null}}
      }
    },
    {
      "data": {"name": "solid"},
      "mark": {"type": "line", "color": "black", "strokeWidth": 2},
      "encoding": {
        "x": {"field": "x", "type": "quantitative", "scale": {"domain": [-2.6, 1.0], "nice": false, "zero": false},
              "axis": {"orient": "top", "values": [-2.5, -2, -1.5, -1, -0.5, 0, 0.5, 1], "labels": false, "tickSize": -9, "title": null}},
        "y": {"field": "y", "type": "quantitative", "scale": {"domain": [-0.1, 5], "nice": false, "zero": false},
              "axis": {"orient": "right", "values": [0, 1, 2, 3, 4, 5], "labels": false, "tickSize": -9, "title": "β", "titleAngle": 270, "titleX": 163, "titleY": 285, "titleAlign": "center", "titleBaseline": "middle", "titleFontSize": 30}},
        "order": {"field": "i", "type": "quantitative"}
      }
    },
    {
      "data": {"name": "dashed"},
      "mark": {"type": "line", "color": "black", "strokeWidth": 2, "strokeDash": [14, 7]},
      "encoding": {
        "x": {"field": "x", "type": "quantitative", "scale": {"domain": [-2.6, 1.0], "nice": false, "zero": false},
              "axis": {"orient": "top", "values": [-2.6,-2.5,-2.4,-2.3,-2.2,-2.1,-2,-1.9,-1.8,-1.7,-1.6,-1.5,-1.4,-1.3,-1.2,-1.1,-1,-0.9,-0.8,-0.7,-0.6,-0.5,-0.4,-0.3,-0.2,-0.1,0,0.1,0.2,0.3,0.4,0.5,0.6,0.7,0.8,0.9,1], "labels": false, "tickSize": -4.5, "domain": false, "title": null}},
        "y": {"field": "y", "type": "quantitative", "scale": {"domain": [-0.1, 5], "nice": false, "zero": false},
              "axis": {"orient": "right", "values": [0,0.2,0.4,0.6,0.8,1,1.2,1.4,1.6,1.8,2,2.2,2.4,2.6,2.8,3,3.2,3.4,3.6,3.8,4,4.2,4.4,4.6,4.8,5], "labels": false, "tickSize": -4.5, "domain": false, "title": "J−H", "titleAngle": 270, "titleX": 170, "titleY": 254, "titleAlign": "center", "titleBaseline": "middle", "titleFontSize": 20}},
        "order": {"field": "i", "type": "quantitative"}
      }
    },
    {
      "data": {"name": "key"},
      "mark": {"type": "point", "filled": false, "color": "#333333", "strokeWidth": 1.8, "opacity": 0},
      "encoding": {
        "shape": {"field": "s", "type": "nominal",
                  "scale": {"domain": ["B12: Bouwens et al. 2012", "B10: Bouwens et al. 2010"],
                            "range": ["M-0.937,0.18A0.667,0.667 0 1,0 0.397,0.18A0.667,0.667 0 1,0 -0.937,0.18ZM0.32,-0.07A0.97,0.97 0 1,0 2.26,-0.07A0.97,0.97 0 1,0 0.32,-0.07Z",
                                      "M-0.27,0.1A0.05,0.05 0 1,0 -0.17,0.1A0.05,0.05 0 1,0 -0.27,0.1ZM1.24,0.1A0.05,0.05 0 1,0 1.34,0.1A0.05,0.05 0 1,0 1.24,0.1ZM2.75,0.1A0.05,0.05 0 1,0 2.85,0.1A0.05,0.05 0 1,0 2.75,0.1Z"]},
                  "legend": {"title": null, "orient": "top-left", "offset": 16, "padding": 11, "strokeColor": "black", "fillColor": "white", "symbolSize": 900, "symbolOpacity": 1, "symbolStrokeWidth": 1.8, "symbolStrokeColor": "#333333", "symbolFillColor": "transparent", "rowPadding": 13, "labelOffset": 63, "labelFont": "DejaVu Sans", "labelFontSize": 22.6, "labelColor": "black", "labelLimit": 500}}
      }
    }
  ]
}
